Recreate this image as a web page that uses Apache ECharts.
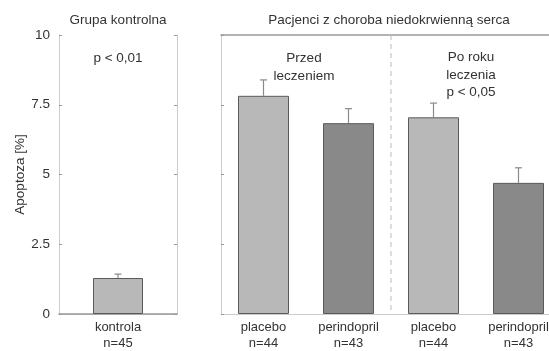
<!DOCTYPE html>
<html><head><meta charset="utf-8">
<script src="https://cdn.jsdelivr.net/npm/echarts@6/dist/echarts.min.js"></script>
<style>html,body{margin:0;padding:0;background:#fff;overflow:hidden;width:549px;height:351px}#c{width:561px;height:351px}</style>
</head><body><div id="c"></div>
<script>
const ctrlCategories = ['kontrola\nn=45'];
const ctrlValues = [1.29];
const ctrlErrTop = [1.43];
const patCategories = ['placebo\nn=44', 'perindopril\nn=43', 'placebo\nn=44', 'perindopril\nn=43'];
const patValues = [7.82, 6.84, 7.05, 4.70];
const patErrTop = [8.39, 7.36, 7.56, 5.24];
const yTicks = [0, 2.5, 5, 7.5, 10];

const LIGHT = '#b8b8b8', DARK = '#898989', BORDER = '#5a5a5a';
const patColors = [LIGHT, DARK, LIGHT, DARK];
const FONT = 'Liberation Sans, Arial, sans-serif';
const TXT = '#333';

const chart = echarts.init(document.getElementById('c'), null, {renderer: 'canvas'});

function yAxisBase(gridIndex, position, showLabel, name) {
  return {
    gridIndex, position, type: 'value', min: 0, max: 10, interval: 2.5,
    axisLine: {show: true, lineStyle: {color: '#cccccc', width: 1}},
    axisTick: {show: true, inside: true, length: 3, lineStyle: {color: '#999'}},
    axisLabel: {show: showLabel, color: TXT, fontFamily: FONT, fontSize: 13.5, margin: 9,
      formatter: v => yTicks.includes(v) ? String(v) : ''},
    splitLine: {show: false},
    name: name || '', nameLocation: 'middle', nameGap: 32, nameRotate: 90,
    nameTextStyle: {color: TXT, fontFamily: FONT, fontSize: 13.5}
  };
}

function errSeries(xi, yi, errTop, vals) {
  return {
    type: 'custom', xAxisIndex: xi, yAxisIndex: yi, z: 5,
    data: vals.map((v, i) => [i, v, errTop[i]]),
    renderItem: (params, api) => {
      const p0 = api.coord([api.value(0), api.value(1)]);
      const p1 = api.coord([api.value(0), api.value(2)]);
      const st = {stroke: '#8a8a8a', lineWidth: 1.2};
      return {type: 'group', children: [
        {type: 'line', shape: {x1: p0[0], y1: p0[1], x2: p1[0], y2: p1[1]}, style: st},
        {type: 'line', shape: {x1: p1[0] - 3.5, y1: p1[1], x2: p1[0] + 3.5, y2: p1[1]}, style: st}
      ]};
    }
  };
}

const option = {
  animation: false,
  backgroundColor: '#fff',
  grid: [
    {left: 59, top: 35, width: 118, height: 281},
    {left: 221, top: 35, width: 340, height: 281}
  ],
  title: [
    {text: 'Grupa kontrolna', left: 118, top: 13, padding: 0, textAlign: 'center',
      textStyle: {color: TXT, fontFamily: FONT, fontSize: 13.5, fontWeight: 'normal'}},
    {text: 'Pacjenci z choroba niedokrwienną serca', left: 389, top: 13, padding: 0, textAlign: 'center',
      textStyle: {color: TXT, fontFamily: FONT, fontSize: 13.5, fontWeight: 'normal'}}
  ],
  xAxis: [
    {gridIndex: 0, type: 'category', data: ctrlCategories, position: 'bottom',
      axisLine: {lineStyle: {color: '#cccccc'}}, axisTick: {show: false},
      axisLabel: {color: TXT, fontFamily: FONT, fontSize: 13, lineHeight: 16, margin: 5}},
    {gridIndex: 1, type: 'category', data: patCategories, position: 'bottom',
      axisLine: {lineStyle: {color: '#cccccc'}}, axisTick: {show: false},
      axisLabel: {color: TXT, fontFamily: FONT, fontSize: 13, lineHeight: 16, margin: 5, interval: 0}},
    {gridIndex: 0, type: 'category', data: ctrlCategories, position: 'top',
      axisLine: {lineStyle: {color: '#999', width: 1.5}}, axisTick: {show: false}, axisLabel: {show: false}},
    {gridIndex: 1, type: 'category', data: patCategories, position: 'top',
      axisLine: {lineStyle: {color: '#999', width: 1.5}}, axisTick: {show: false}, axisLabel: {show: false}}
  ],
  yAxis: [
    yAxisBase(0, 'left', true, 'Apoptoza [%]'),
    yAxisBase(1, 'left', false),
    yAxisBase(0, 'right', false)
  ],
  series: [
    {type: 'bar', xAxisIndex: 0, yAxisIndex: 0, data: ctrlValues, barWidth: 50,
      itemStyle: {color: LIGHT, borderColor: BORDER, borderWidth: 1}},
    {type: 'bar', xAxisIndex: 1, yAxisIndex: 1, barWidth: 51,
      data: patValues.map((v, i) => ({value: v, itemStyle: {color: patColors[i]}})),
      itemStyle: {borderColor: BORDER, borderWidth: 1}},
    errSeries(0, 0, ctrlErrTop, ctrlValues),
    errSeries(1, 1, patErrTop, patValues),
    {type: 'custom', xAxisIndex: 1, yAxisIndex: 1, z: 1, data: [[1, 0]],
      renderItem: (params, api) => {
        const p = api.coord([1, 0]);
        const top = api.coord([1, 10]);
        const w = api.size([1, 0])[0];
        const x = p[0] + w / 2;
        return {type: 'line', shape: {x1: x, y1: top[1], x2: x, y2: p[1]},
          style: {stroke: '#bbbbbb', lineWidth: 1, lineDash: [5, 4]}};
      }}
  ],
  graphic: [
    {type: 'text', x: 118, y: 51, style: {text: 'p < 0,01', textAlign: 'center', fill: TXT, font: '13.5px ' + FONT}},
    {type: 'text', x: 304, y: 49, style: {text: 'Przed\nleczeniem', textAlign: 'center', fill: TXT, font: '13.5px ' + FONT, lineHeight: 18}},
    {type: 'text', x: 471, y: 49, style: {text: 'Po roku\nleczenia\np < 0,05', textAlign: 'center', fill: TXT, font: '13.5px ' + FONT, lineHeight: 17.5}}
  ]
};
chart.setOption(option);
</script></body></html>
